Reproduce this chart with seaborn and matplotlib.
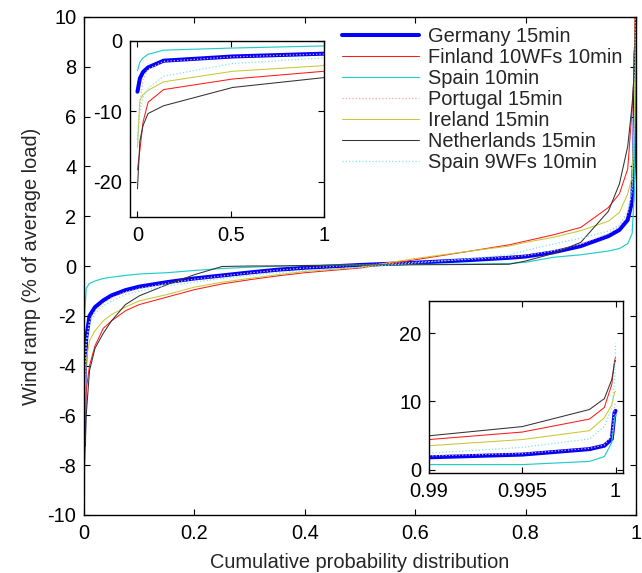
import numpy as np
import pandas as pd
import matplotlib
matplotlib.use("Agg")
import matplotlib.pyplot as plt
import seaborn as sns
from matplotlib.ticker import FuncFormatter

# ---------------- data ----------------
series_names = ["Germany 15min", "Finland 10WFs 10min", "Spain 10min",
                "Portugal 15min", "Ireland 15min", "Netherlands 15min",
                "Spain 9WFs 10min"]

# main plot: cumulative probability grid
cum_prob = [0, 0.001, 0.004, 0.01, 0.02, 0.035, 0.05, 0.075, 0.1, 0.15, 0.2,
            0.25, 0.3, 0.35, 0.4, 0.5, 0.6, 0.7, 0.77, 0.8, 0.85, 0.9, 0.95,
            0.97, 0.985, 0.993, 0.997, 0.999, 1.0]

germany = [-7.2, -4.5, -2.9, -2.0, -1.65, -1.38, -1.18, -0.97, -0.83, -0.65, -0.5,
           -0.38, -0.26, -0.15, -0.07, 0.04, 0.13, 0.24, 0.33, 0.38, 0.55, 0.8, 1.2,
           1.45, 1.85, 2.6, 4.5, 8.5, 8.8]
finland = [-18.3, -7.0, -5.0, -4.0, -3.2, -2.5, -2.2, -1.8, -1.55, -1.25, -0.95,
           -0.72, -0.55, -0.4, -0.27, -0.08, 0.25, 0.6, 0.85, 1.0, 1.25, 1.55, 2.35,
           2.9, 3.9, 6.3, 8.0, 12.0, 16.4]
spain10 = [-4.2, -2.0, -0.9, -0.7, -0.6, -0.5, -0.45, -0.38, -0.32, -0.27, -0.18,
           -0.1, -0.05, 0.0, 0.02, 0.04, 0.06, 0.08, 0.1, 0.15, 0.35, 0.45, 0.6,
           0.7, 0.9, 1.3, 3.0, 8.0, 10.5]
portugal = [-14.0, -5.5, -3.2, -2.2, -1.8, -1.5, -1.28, -1.05, -0.9, -0.7, -0.53,
            -0.4, -0.28, -0.17, -0.08, 0.04, 0.15, 0.27, 0.36, 0.42, 0.6, 0.88, 1.3,
            1.6, 2.1, 3.0, 5.5, 9.5, 9.8]
ireland = [-15.1, -6.0, -3.8, -3.0, -2.6, -2.2, -1.95, -1.65, -1.4, -1.15, -0.85,
           -0.65, -0.5, -0.35, -0.22, -0.05, 0.3, 0.6, 0.8, 0.95, 1.15, 1.42, 1.8,
           2.15, 2.9, 3.6, 6.0, 10.0, 11.5]
netherlands = [-21.0, -8.0, -6.0, -4.2, -3.3, -2.7, -2.2, -1.55, -1.2, -0.75, -0.35,
               -0.02, 0.0, 0.0, 0.02, 0.04, 0.05, 0.06, 0.07, 0.2, 0.5, 0.95, 2.2,
               3.3, 4.8, 6.5, 7.8, 10.0, 16.0]
spain9 = [-15.0, -4.5, -3.0, -2.3, -1.9, -1.6, -1.4, -1.15, -1.0, -0.8, -0.65,
          -0.5, -0.37, -0.27, -0.18, -0.05, 0.12, 0.3, 0.45, 0.62, 0.88, 1.12, 1.4,
          1.65, 2.2, 3.2, 5.5, 10.0, 18.5]

# inset 1 (low tail)
inset1_x = [0, 0.013, 0.03, 0.057, 0.14, 0.51, 1.0]
inset1_germany = [-7.2, -5.3, -4.4, -3.75, -2.8, -2.2, -1.8]
inset1_finland = [-18.3, -15.5, -11.5, -8.7, -6.9, -5.4, -4.3]
inset1_spain10 = [-4.2, -3.0, -2.4, -1.9, -1.3, -1.0, -0.7]
inset1_portugal = [-14.0, -9.0, -5.5, -4.0, -2.9, -2.25, -1.85]
inset1_ireland = [-15.1, -8.4, -7.6, -7.0, -5.8, -4.3, -3.5]
inset1_netherlands = [-21.0, -14.2, -12.0, -10.3, -9.2, -6.6, -5.2]
inset1_spain9 = [-15.0, -10.0, -8.0, -6.7, -5.0, -3.2, -2.4]

# inset 2 (high tail)
inset2_x = [0.99, 0.995, 0.9986, 0.9994, 0.9998, 0.99995, 1.0]
inset2_germany = [1.8, 2.2, 3.0, 3.5, 4.5, 8.4, 8.6]
inset2_finland = [4.4, 5.5, 7.4, 9.1, 12.5, 16.1, 16.4]
inset2_spain10 = [0.73, 0.73, 1.2, 1.9, 4.0, 7.5, 8.0]
inset2_portugal = [2.0, 2.35, 3.1, 3.6, 5.0, 9.5, 9.8]
inset2_ireland = [3.5, 4.4, 5.7, 7.6, 9.5, 11.3, 11.5]
inset2_netherlands = [4.95, 6.3, 8.8, 10.4, 13.2, 15.6, 16.0]
inset2_spain9 = [2.4, 3.25, 4.5, 6.3, 9.0, 13.0, 18.5]

main_vals = [germany, finland, spain10, portugal, ireland, netherlands, spain9]
inset1_vals = [inset1_germany, inset1_finland, inset1_spain10, inset1_portugal,
               inset1_ireland, inset1_netherlands, inset1_spain9]
inset2_vals = [inset2_germany, inset2_finland, inset2_spain10, inset2_portugal,
               inset2_ireland, inset2_netherlands, inset2_spain9]

# ---------------- styles ----------------
colors = ["#0000ff", "#ff1a1a", "#22cccc", "#f2a8a8", "#c8c832", "#333333", "#80e6e6"]
widths = [2.9, 0.75, 0.85, 0.9, 0.75, 0.75, 0.9]
styles = ["-", "-", "-", ":", "-", "-", ":"]

sns.set_style("ticks")
plt.rcParams["font.family"] = ["Liberation Sans", "DejaVu Sans"]
plt.rcParams["axes.unicode_minus"] = False
FS = 14.4

fig = plt.figure(figsize=(6.42, 5.73), dpi=100)
W, H = 642.0, 573.0


def px_axes(l, t, r, b):
    return fig.add_axes([l / W, (H - b) / H, (r - l) / W, (b - t) / H])


fmt = FuncFormatter(lambda v, p: f"{v:g}")


def style_axes(ax, ypad=5.5):
    ax.set_facecolor("white")
    for s in ax.spines.values():
        s.set_visible(True)
        s.set_color("black")
        s.set_linewidth(1.0)
    ax.tick_params(direction="in", length=4, width=0.8, top=True, right=True,
                   labelsize=FS, colors="black")
    ax.tick_params(axis="x", pad=6.5)
    ax.tick_params(axis="y", pad=ypad)
    ax.xaxis.set_major_formatter(fmt)
    ax.yaxis.set_major_formatter(fmt)


def draw(ax, xs, vals, with_labels=False):
    for name, v, c, lw, ls in zip(series_names, vals, colors, widths, styles):
        df = pd.DataFrame({"x": xs, "y": v})
        sns.lineplot(data=df, x="x", y="y", ax=ax, color=c, linewidth=lw,
                     linestyle=ls, label=name if with_labels else None,
                     estimator=None, sort=False, legend=False)


# main axes
ax = px_axes(84, 17, 636, 515)
draw(ax, cum_prob, main_vals, with_labels=True)
ax.set_xlim(0, 1)
ax.set_ylim(-10, 10)
ax.set_xticks([0, 0.2, 0.4, 0.6, 0.8, 1])
ax.set_yticks(np.arange(-10, 11, 2))
style_axes(ax, ypad=5.5)
ax.set_xlabel("Cumulative probability distribution", fontsize=FS, labelpad=7)
ax.set_ylabel("Wind ramp (% of average load)", fontsize=FS, labelpad=5)

handles, labels = ax.get_legend_handles_labels()
leg = ax.legend(handles, labels, loc="upper left",
                bbox_to_anchor=(342 / W, 1 - 27 / H), bbox_transform=fig.transFigure,
                frameon=False, fontsize=FS, handlelength=3.85, handletextpad=0.43,
                labelspacing=0.1, borderpad=0, borderaxespad=0)

# inset 1
ax1 = px_axes(130, 41, 324, 217)
draw(ax1, inset1_x, inset1_vals)
ax1.set_xlim(-0.04, 1)
ax1.set_ylim(-25, 0)
ax1.set_xticks([0, 0.5, 1])
ax1.set_yticks([-20, -10, 0])
style_axes(ax1, ypad=5.5)
ax1.set_xlabel("")
ax1.set_ylabel("")

# inset 2
ax2 = px_axes(429, 301, 623, 473)
draw(ax2, inset2_x, inset2_vals)
ax2.set_xlim(0.99, 1.0004)
ax2.set_ylim(-0.5, 24.7)
ax2.set_xticks([0.99, 0.995, 1])
ax2.set_yticks([0, 10, 20])
style_axes(ax2, ypad=5.5)
ax2.set_xlabel("")
ax2.set_ylabel("")

fig.savefig("out.png", dpi=100, facecolor="white")
